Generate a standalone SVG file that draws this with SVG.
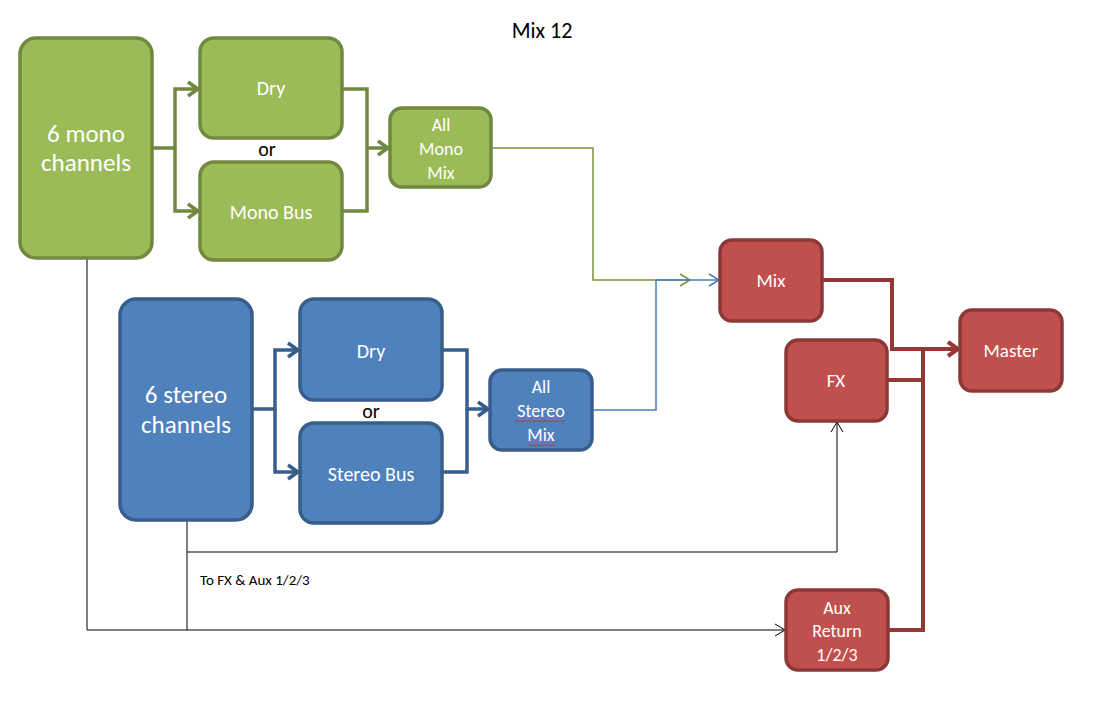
<svg xmlns="http://www.w3.org/2000/svg" width="1104" height="713" viewBox="0 0 1104 713">
<style>
.g{fill:#9bbb59;stroke:#71893f;stroke-width:3.5}
.b{fill:#4f81bd;stroke:#385d8a;stroke-width:3.5}
.r{fill:#c0504d;stroke:#8c3836;stroke-width:3.5}
.t{font-family:Carlito,Lato,"Open Sans",sans-serif;fill:#fff;text-anchor:middle}
.k{font-family:Carlito,Lato,"Open Sans",sans-serif;fill:#000}
.cg{fill:none;stroke:#71893f;stroke-width:3.5}
.cb{fill:none;stroke:#385d8a;stroke-width:3.5}
.cr{fill:none;stroke:#953735;stroke-width:4}
.tg{fill:none;stroke:#77933c;stroke-width:1.5}
.tb{fill:none;stroke:#4a7ebb;stroke-width:1.5}
.bk{fill:none;stroke:#000;stroke-width:1}
</style>
<defs>
<marker id="ag" markerUnits="userSpaceOnUse" markerWidth="16" markerHeight="20" refX="12" refY="10" orient="auto"><path d="M2,3 L12,10 L2,17" fill="none" stroke="#71893f" stroke-width="3.5"/></marker>
<marker id="ab" markerUnits="userSpaceOnUse" markerWidth="16" markerHeight="20" refX="12" refY="10" orient="auto"><path d="M2,3 L12,10 L2,17" fill="none" stroke="#385d8a" stroke-width="3.5"/></marker>
<marker id="ar" markerUnits="userSpaceOnUse" markerWidth="16" markerHeight="20" refX="12" refY="10" orient="auto"><path d="M2,3 L12,10 L2,17" fill="none" stroke="#953735" stroke-width="4"/></marker>
<marker id="atg" markerUnits="userSpaceOnUse" markerWidth="14" markerHeight="16" refX="12" refY="8" orient="auto"><path d="M2,2 L12,8 L2,14" fill="none" stroke="#77933c" stroke-width="1.5"/></marker>
<marker id="atb" markerUnits="userSpaceOnUse" markerWidth="14" markerHeight="16" refX="12" refY="8" orient="auto"><path d="M2,2 L12,8 L2,14" fill="none" stroke="#4a7ebb" stroke-width="1.5"/></marker>
<marker id="ak" markerUnits="userSpaceOnUse" markerWidth="14" markerHeight="16" refX="12" refY="8" orient="auto"><path d="M2,2 L12,8 L2,14" fill="none" stroke="#000" stroke-width="1"/></marker>
</defs>
<rect width="1104" height="713" fill="#fff"/>
<text class="k" x="542" y="38" font-size="22" text-anchor="middle">Mix 12</text>

<g id="connectors">
<path class="cg" d="M152,148 H175 V89 H198" marker-end="url(#ag)"/>
<path class="cg" d="M175,148 V211 H198" marker-end="url(#ag)"/>
<path class="cg" d="M342,89 H367 V211 H342"/>
<path class="cg" d="M367,148 H388" marker-end="url(#ag)"/>
<path class="cb" d="M252,409 H275 V350 H298" marker-end="url(#ab)"/>
<path class="cb" d="M275,409 V472 H298" marker-end="url(#ab)"/>
<path class="cb" d="M442,350 H467 V472 H442"/>
<path class="cb" d="M467,409 H488" marker-end="url(#ab)"/>
<path class="tg" d="M491,148 H593 V280 H690" marker-end="url(#atg)"/>
<path class="tb" d="M592,410 H656 V280 H719" marker-end="url(#atb)"/>
<path class="cr" d="M822,280 H892 V349 H958" marker-end="url(#ar)"/>
<path class="cr" d="M887,380 H923"/>
<path class="cr" d="M888,630 H923 V349"/>
<path class="bk" d="M87,258 V630 H785" marker-end="url(#ak)"/>
<path class="bk" d="M187,520 V630"/>
<path class="bk" d="M187,552 H837 V422" marker-end="url(#ak)"/>
</g>

<g id="mono-channels"><rect class="g" x="20" y="38" width="132" height="220" rx="16"/>
<text class="t" x="86" y="142" font-size="25">6 mono</text><text class="t" x="86" y="171" font-size="25">channels</text></g>
<g id="mono-dry"><rect class="g" x="200" y="38" width="142" height="100" rx="14"/>
<text class="t" x="271" y="95" font-size="20">Dry</text></g>
<text class="k" x="267" y="156" font-size="20" text-anchor="middle">or</text>
<g id="mono-bus"><rect class="g" x="200" y="162" width="142" height="98" rx="14"/>
<text class="t" x="271" y="219" font-size="20">Mono Bus</text></g>
<g id="all-mono-mix"><rect class="g" x="390" y="108" width="101" height="79" rx="12"/>
<text class="t" x="441" y="131" font-size="18">All</text><text class="t" x="441" y="155" font-size="18">Mono</text><text class="t" x="441" y="179" font-size="18">Mix</text></g>

<g id="stereo-channels"><rect class="b" x="120" y="299" width="132" height="221" rx="16"/>
<text class="t" x="186" y="403" font-size="25">6 stereo</text><text class="t" x="186" y="433" font-size="25">channels</text></g>
<g id="stereo-dry"><rect class="b" x="300" y="299" width="142" height="101" rx="14"/>
<text class="t" x="371" y="358" font-size="20">Dry</text></g>
<text class="k" x="371" y="418" font-size="20" text-anchor="middle">or</text>
<g id="stereo-bus"><rect class="b" x="300" y="423" width="142" height="100" rx="14"/>
<text class="t" x="371" y="481" font-size="20">Stereo Bus</text></g>
<g id="all-stereo-mix"><rect class="b" x="490" y="370" width="102" height="80" rx="12"/>
<text class="t" x="541" y="393" font-size="18">All</text><text class="t" x="541" y="417" font-size="18">Stereo</text><text class="t" x="541" y="441" font-size="18">Mix</text>
<path d="M515,422 l2,-1.5 l2,1.5 l2,-1.5 l2,1.5 l2,-1.5 l2,1.5 l2,-1.5 l2,1.5 l2,-1.5 l2,1.5 l2,-1.5 l2,1.5 l2,-1.5 l2,1.5 l2,-1.5 l2,1.5 l2,-1.5 l2,1.5 l2,-1.5 l2,1.5 l2,-1.5 l2,1.5 l2,-1.5 l2,1.5 l2,-1.5" fill="none" stroke="#e02020" stroke-width="0.8"/>
<path d="M527,446 l2,-1.5 l2,1.5 l2,-1.5 l2,1.5 l2,-1.5 l2,1.5 l2,-1.5 l2,1.5 l2,-1.5 l2,1.5 l2,-1.5 l2,1.5 l2,-1.5 l2,1.5" fill="none" stroke="#e02020" stroke-width="0.8"/></g>

<g id="mix"><rect class="r" x="720" y="240" width="102" height="81" rx="12"/>
<text class="t" x="771" y="287" font-size="19">Mix</text></g>
<g id="fx"><rect class="r" x="786" y="340" width="101" height="81" rx="12"/>
<text class="t" x="836" y="387" font-size="19">FX</text></g>
<g id="master"><rect class="r" x="960" y="310" width="102" height="81" rx="12"/>
<text class="t" x="1011" y="357" font-size="19">Master</text></g>
<g id="aux-return"><rect class="r" x="786" y="590" width="102" height="80" rx="12"/>
<text class="t" x="837" y="614" font-size="18">Aux</text><text class="t" x="837" y="637" font-size="18">Return</text><text class="t" x="837" y="661" font-size="18">1/2/3</text></g>

<text class="k" x="200" y="585" font-size="15">To FX &amp; Aux 1/2/3</text>
</svg>
